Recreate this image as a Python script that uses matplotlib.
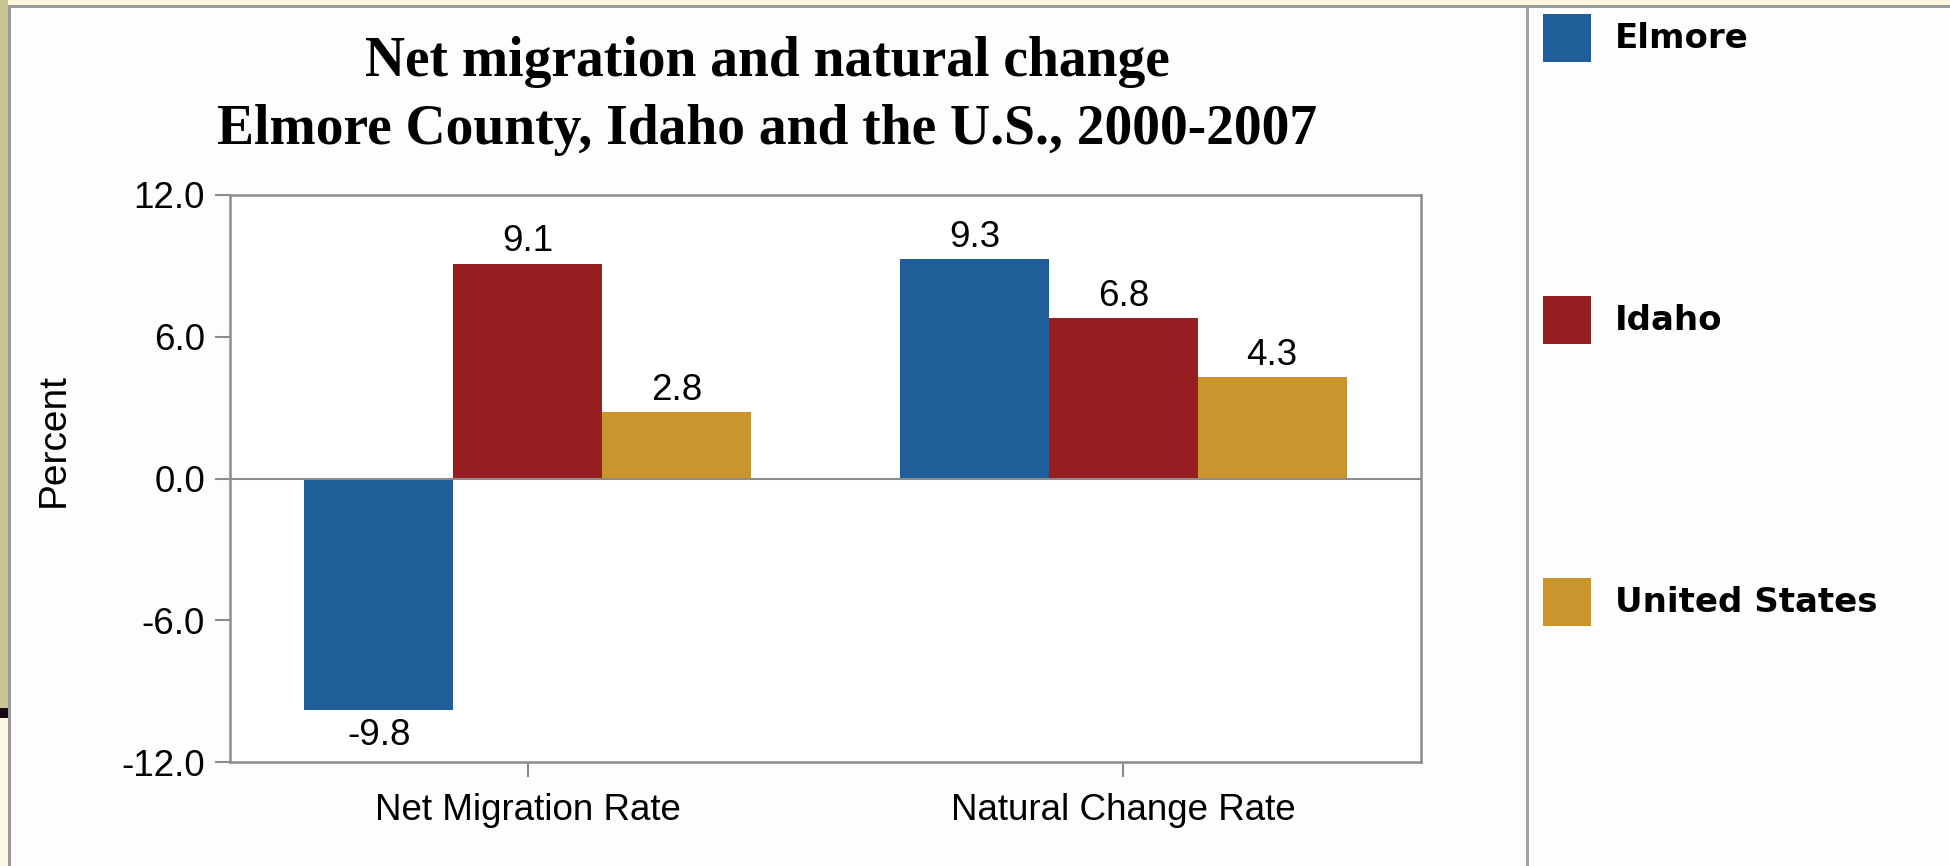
import numpy as np
import matplotlib
matplotlib.use("Agg")
import matplotlib.pyplot as plt
from matplotlib.patches import Rectangle

# chart data
categories = ["Net Migration Rate", "Natural Change Rate"]
series = ["Elmore", "Idaho", "United States"]
elmore = [-9.8, 9.3]
idaho = [9.1, 6.8]
united_states = [2.8, 4.3]
title_lines = ["Net migration and natural change",
               "Elmore County, Idaho and the U.S., 2000-2007"]
y_ticks = [-12.0, -6.0, 0.0, 6.0, 12.0]

colors = ["#1f5e99", "#961d20", "#c9952c"]
gray = "#8c8c8c"

fig = plt.figure(figsize=(19.5, 8.66), dpi=100)
fig.patch.set_facecolor("#fdfdfd")

# screenshot frame bits (left strip, top strip, borders)
W, H = 1950, 866
fig.patches.append(Rectangle((0, 1 - 5 / H), 1, 5 / H, transform=fig.transFigure, facecolor="#fbf6dc", edgecolor="none"))
fig.patches.append(Rectangle((0, 1 - 708 / H), 8 / W, 708 / H, transform=fig.transFigure, facecolor="#c8c793", edgecolor="none"))
fig.patches.append(Rectangle((0, 1 - 718 / H), 8 / W, 10 / H, transform=fig.transFigure, facecolor="#140a14", edgecolor="none"))
fig.patches.append(Rectangle((0, 0), 8 / W, 1 - 718 / H, transform=fig.transFigure, facecolor="#fbf8e2", edgecolor="none"))
fig.patches.append(Rectangle((8 / W, 0), 3 / W, 1 - 5 / H, transform=fig.transFigure, facecolor="#9a9a9a", edgecolor="none"))
fig.patches.append(Rectangle((8 / W, 1 - 8 / H), 1 - 8 / W, 3 / H, transform=fig.transFigure, facecolor="#9a9a9a", edgecolor="none"))
# separator between plot and legend
fig.patches.append(Rectangle((1526 / W, 0), 3 / W, 1 - 8 / H, transform=fig.transFigure, facecolor="#a0a0a0", edgecolor="none"))

ax = fig.add_axes([230 / W, 1 - 762 / H, (1421 - 230) / W, (762 - 195) / H])
ax.set_zorder(5)
ax.set_facecolor("white")

x = np.arange(len(categories))
width = 0.25
for i, (vals, color) in enumerate(zip([elmore, idaho, united_states], colors)):
    bars = ax.bar(x + (i - 1) * width, vals, width=width, color=color, zorder=2)
    for b, v in zip(bars, vals):
        if v >= 0:
            ax.annotate(f"{v:.1f}", (b.get_x() + b.get_width() / 2, v),
                        xytext=(0, 3), textcoords="offset points",
                        ha="center", va="bottom", fontsize=26.5, family="Liberation Sans")
        else:
            ax.annotate(f"{v:.1f}", (b.get_x() + b.get_width() / 2, v),
                        xytext=(0, -6), textcoords="offset points",
                        ha="center", va="top", fontsize=26.5, family="Liberation Sans")

ax.axhline(0, color=gray, linewidth=1.5, zorder=3)
ax.set_xlim(-0.5, 1.5)
ax.set_ylim(-12, 12)
ax.set_yticks(y_ticks)
ax.set_yticklabels([f"{t:.1f}" for t in y_ticks])
ax.set_xticks(x)
ax.set_xticklabels(categories)
for lab in ax.get_xticklabels() + ax.get_yticklabels():
    lab.set_fontsize(26.5)
    lab.set_family("Liberation Sans")
ax.tick_params(axis="both", direction="out", length=11, width=1.5, color=gray, pad=7)
ax.tick_params(axis="x", pad=11)
for s in ax.spines.values():
    s.set_color(gray)
    s.set_linewidth(1.8)

fig.text(54 / W, 1 - 440 / H, "Percent", rotation=90, ha="center", va="center",
         fontsize=28, family="Liberation Sans")

fig.text(767 / W, 1 - 62 / H, title_lines[0], ha="center", va="center",
         fontsize=40, fontweight="bold", family="Liberation Serif")
fig.text(767 / W, 1 - 130 / H, title_lines[1], ha="center", va="center",
         fontsize=40, fontweight="bold", family="Liberation Serif")

# legend on the right
legend_y = [38, 320, 602]
for name, color, yc in zip(series, colors, legend_y):
    fig.patches.append(Rectangle((1543 / W, 1 - (yc + 24) / H), 48 / W, 48 / H,
                                 transform=fig.transFigure, facecolor=color, edgecolor="none"))
    fig.text(1615 / W, 1 - yc / H, name, ha="left", va="center",
             fontsize=24.5, fontweight="bold", family="DejaVu Sans")

fig.savefig("out.png", dpi=100)
